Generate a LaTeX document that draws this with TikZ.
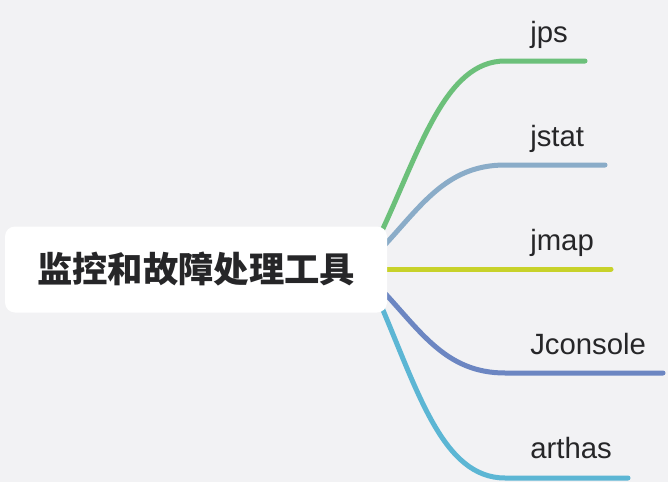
\documentclass[tikz,border=0pt]{standalone}
\usepackage{fontspec}
\setmainfont{Liberation Sans}
\newfontfamily\cjk{Noto Sans CJK SC}
\definecolor{bgc}{RGB}{242,242,244}
\definecolor{txt}{RGB}{38,38,40}
\definecolor{cjps}{RGB}{108,192,122}
\definecolor{cjstat}{RGB}{138,172,200}
\definecolor{cjmap}{RGB}{200,210,42}
\definecolor{cjcon}{RGB}{108,134,194}
\definecolor{carth}{RGB}{92,182,212}
\begin{document}
\begin{tikzpicture}[x=0.75pt,y=-0.75pt]
\tikzset{
  branch/.style={line width=3.75pt, line cap=round},
  lbl/.style={anchor=base west, font=\fontsize{22}{26}\selectfont, text=txt, inner sep=0pt},
  rootbox/.style={fill=white, rounded corners=7.5pt, minimum width=286.5pt, minimum height=64.5pt, inner sep=0pt, text=txt, font=\cjk\bfseries\fontsize{26.5}{32}\selectfont}
}
\fill[bgc] (0,0) rectangle (668,482);
\useasboundingbox (0,0) rectangle (668,482);
% start points (behind root box)
\coordinate (s1) at (380,235);
\coordinate (s2) at (380,250);
\coordinate (s3) at (375,269);
\coordinate (s4) at (380,288);
\coordinate (s5) at (380,303);
% knees and ends
\coordinate (k1) at (505,61);  \coordinate (e1) at (585,61);
\coordinate (k2) at (505,165); \coordinate (e2) at (605,165);
\coordinate (e3) at (611,269);
\coordinate (k4) at (505,373); \coordinate (e4) at (663,373);
\coordinate (k5) at (505,478); \coordinate (e5) at (628,478);
\draw[branch, cjps]   (s1) .. controls (420,150) and (445,61)  .. (k1) -- (e1);
\draw[branch, cjstat] (s2) .. controls (420,208) and (445,165) .. (k2) -- (e2);
\draw[branch, cjmap]  (s3) -- (e3);
\draw[branch, cjcon]  (s4) .. controls (420,330) and (445,373) .. (k4) -- (e4);
\draw[branch, carth]  (s5) .. controls (418,392) and (443,478) .. (k5) -- (e5);
\node[rootbox] (root) at (196,269.5) {监控和故障处理工具};
\node[lbl] (jps) at (530,42) {jps};
\node[lbl] (jstat) at (530,146) {jstat};
\node[lbl] (jmap) at (530,250) {jmap};
\node[lbl] (jconsole) at (530,354) {Jconsole};
\node[lbl] (arthas) at (530,458) {arthas};
\end{tikzpicture}
\end{document}
